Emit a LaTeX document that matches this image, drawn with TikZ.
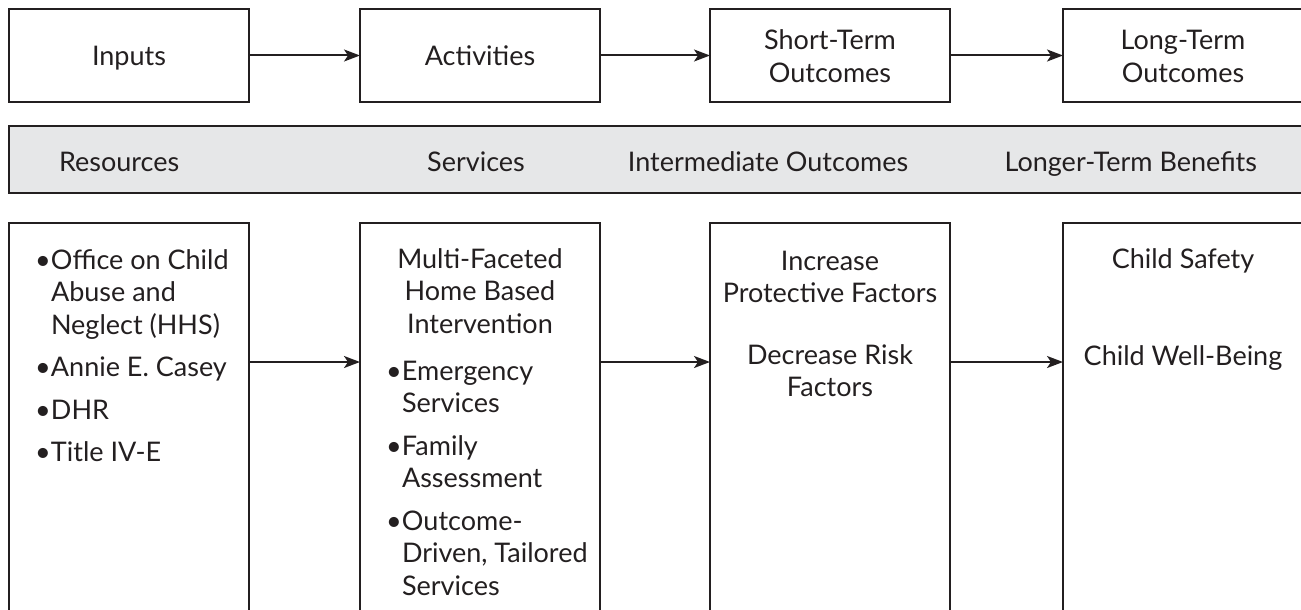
\documentclass[tikz,border=0pt]{standalone}
\usepackage{fontspec}
\setmainfont{Lato}
\usetikzlibrary{arrows.meta}
\definecolor{ink}{HTML}{231F20}
\definecolor{band}{HTML}{E6E7E8}
\newcommand\lns[2]{\begin{tabular}[t]{@{}#1@{}}#2\end{tabular}}
\newcommand\bul{\makebox[16pt][l]{\textbullet}}
\tikzset{
  box/.style={draw=ink, line width=2.5pt, inner sep=0pt, outer sep=0pt, anchor=north west},
  txt/.style={text=ink, inner sep=0pt, outer sep=0pt, font=\fontsize{27}{32.5}\selectfont},
  arr/.style={draw=ink, line width=2pt, -{Stealth[length=16pt,width=12pt,inset=4pt]}}
}
\begin{document}
\begin{tikzpicture}[x=1pt,y=-1pt]
\useasboundingbox (0,0) rectangle (1301,610);
% top row
\node[box, minimum width=240pt, minimum height=93pt] (in) at (9,9) {};
\node[box, minimum width=240pt, minimum height=93pt] (act) at (360,9) {};
\node[box, minimum width=240pt, minimum height=93pt] (st) at (710,9) {};
\node[box, minimum width=240pt, minimum height=93pt] (lt) at (1063,9) {};
\node[txt, anchor=base] (inT) at (129,66) {Inputs};
\node[txt, anchor=base] (actT) at (480,66) {Activities};
\node[txt, anchor=base] (stT) at (830,50) {\lns{c}{Short-Term\\Outcomes}};
\node[txt, anchor=base] (ltT) at (1183,50) {\lns{c}{Long-Term\\Outcomes}};
\draw[arr] (in.east) -- (act.west);
\draw[arr] (act.east) -- (st.west);
\draw[arr] (st.east) -- (lt.west);
% band
\node[box, fill=band, minimum width=1294pt, minimum height=67pt] (bnd) at (9,126) {};
\node[txt, anchor=base west] (b1) at (59,171) {Resources};
\node[txt, anchor=base] (b2) at (476,171) {Services};
\node[txt, anchor=base] (b3) at (768,171) {Intermediate Outcomes};
\node[txt, anchor=base east] (b4) at (1257,171) {Longer-Term Benefits};
% bottom row
\node[box, minimum width=240pt, minimum height=430pt] (res) at (9,223) {};
\node[box, minimum width=240pt, minimum height=430pt] (srv) at (360,223) {};
\node[box, minimum width=240pt, minimum height=430pt] (out) at (710,223) {};
\node[box, minimum width=240pt, minimum height=430pt] (ben) at (1063,223) {};
\coordinate (ay) at (0,362);
\draw[arr] (res.east |- ay) -- (srv.west |- ay);
\draw[arr] (srv.east |- ay) -- (out.west |- ay);
\draw[arr] (out.east |- ay) -- (ben.west |- ay);
\node[txt, anchor=base west] (resL) at (35,269) {\lns{l@{}l}{\bul&Office on Child\\&Abuse and\\&Neglect (HHS)\\[10pt]\bul&Annie E. Casey\\[10pt]\bul&DHR\\[10pt]\bul&Title IV-E}};
\node[txt, anchor=base] (srvH) at (480,268) {\lns{c}{Multi-Faceted\\Home Based\\Intervention}};
\node[txt, anchor=base west] (srvL) at (386,380) {\lns{l@{}l}{\bul&Emergency\\&Services\\[10pt]\bul&Family\\&Assessment\\[10pt]\bul&Outcome-\\&Driven, Tailored\\&Services}};
\node[txt, anchor=base] (out1) at (830,270) {\lns{c}{Increase\\Protective Factors}};
\node[txt, anchor=base] (out2) at (830,364) {\lns{c}{Decrease Risk\\Factors}};
\node[txt, anchor=base] (ben1) at (1183,268) {Child Safety};
\node[txt, anchor=base] (ben2) at (1183,365) {Child Well-Being};
\end{tikzpicture}
\end{document}
